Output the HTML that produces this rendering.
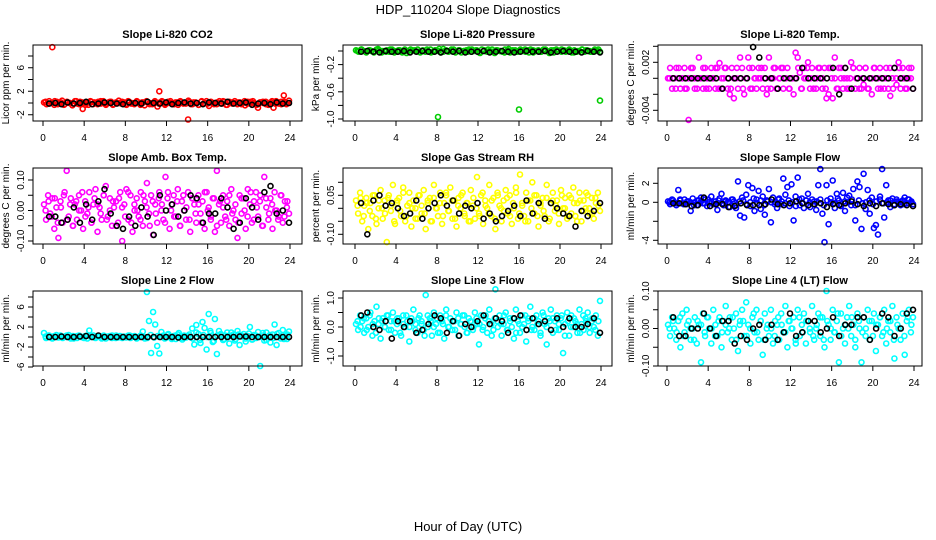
<!DOCTYPE html>
<html><head><meta charset="utf-8"><title>HDP_110204 Slope Diagnostics</title>
<style>
html,body{margin:0;padding:0;background:#fff;}
svg{display:block;font-family:"Liberation Sans",Arial,sans-serif;}
</style></head>
<body>
<svg id="chart" width="936" height="540" viewBox="0 0 936 540" xmlns="http://www.w3.org/2000/svg">
<text x="468" y="14" font-size="13" text-anchor="middle">HDP_110204  Slope Diagnostics</text>
<text x="468" y="531" font-size="13" text-anchor="middle">Hour of Day (UTC)</text>
</svg>
<script>
const xTicks = [0,4,8,12,16,20,24];

const co2Vals = [0.1,-0.2,0.3,0,-0.3,0.2,-0.1,0.4,-0.2,0.1,0,-0.4,0.3,-0.1,0.2,-1.0,-0.3,0.1,0.3,-0.2,0,0.2,-0.1,0.3,-0.3,0.1,0.2,-0.2,0,0.4,-0.1,0.1,-0.3,0.2,0,-0.2,0.3,-0.1,0.1,-0.4,0.2,0,-0.2,0.3,-0.6,0.1,0.2,-0.1,0,0.3,-0.2,0.1,-0.3,0.2,0,-0.1,0.4,-0.2,0.1,0,-0.3,0.2,-0.1,0.3,-0.5,0.1,0,-0.2,0.3,-0.1,0.2,-0.3,0,0.1,0.3,-0.2,0.1,0,-0.4,0.2,-0.1,0.3,-0.2,-0.8,0.1,0,0.2,-0.3,0.1,-0.8,0.3,-0.1,0.2,0,-0.2,0.4];
const co2Vals2 = [0.2,-0.1,0.0,0.3,-0.2,0.1,-0.3,0.2,0.0,-0.1,0.3,-0.2,0.1,0.0,-0.3,0.2,0.1,-0.2,0.3,0.0,-0.1,0.2,-0.3,0.1,0.0,0.2,-0.2,0.3,-0.1,0.0,0.2,-0.3,0.1,0.3,-0.2,0.0,0.1,-0.1,0.3,-0.3,0.2,0.0,-0.2,0.1,0.3,-0.1,0.0,0.2,-0.2,0.1,-0.3,0.3,0.0,-0.1,0.2,-0.2,0.1,0.0,0.3,-0.3,0.2,-0.1,0.0,0.1,-0.2,0.3,-0.1,0.2,0.0,-0.3,0.1,0.2,-0.2,0.0,0.3,-0.1,0.1,-0.2,0.2,0.0];
const co2OutHours = [0.9,11.3,14.1,23.4];
const co2OutVals = [9.5,2.0,-2.8,1.3];
const co2Black = [-0.1,0,-0.2,0.1,-0.1,0,0.2,-0.2,-0.1,0.1,0,-0.1,-0.2,0.1,0,-0.1,0.2,0,-0.1,0.1,-0.2,0,0.1,-0.1,0,-0.2,0.1,0,-0.1,0.2,-0.1,0,0.1,-0.3,-0.1,0,-0.2,0.1,-0.1,0];

const presVals = [0.01,-0.01,0.02,0,-0.02,0.01,0,-0.01,0.02,0.01,-0.02,0,0.01,-0.01,0.02,0,-0.01,0.01,-0.02,0.02,0,-0.01,0.01,0,0.02,-0.02,0.01,-0.01,0,0.02,-0.01,0.01,0,-0.02,0.03,0.01,-0.01,0,0.02,-0.01,0.01,-0.02,0,0.01,0.02,-0.01,0,0.01,-0.02,0.02,0.01,-0.01,0,0.02,-0.03,0.01,0,-0.01,0.02,0.01,-0.02,0,0.01,-0.01,0.02,0,-0.01,0.01,0.02,-0.02,0,0.01,-0.01,0.02,0,-0.01,0.01,-0.02,0.02,0,-0.01,0.01,0,0.02,-0.02,0.01,-0.01,0,0.02,-0.01,0.01,0,-0.01,0.02,0,-0.01];
const presVals2 = [0.0,0.02,-0.01,0.01,-0.02,0.03,0.0,-0.01,0.02,-0.02,0.01,0.0,-0.03,0.02,0.01,-0.01,0.0,0.02,-0.02,0.01,0.03,-0.01,0.0,0.02,-0.02,0.01,0.0,-0.01,0.02,0.01,-0.03,0.0,0.02,-0.01,0.01,0.0,-0.02,0.03,0.01,-0.01,0.0,0.02,-0.02,0.01,0.0,-0.01,0.02,-0.03,0.01,0.0,0.02,-0.01,0.01,-0.02,0.0,0.02,0.01,-0.01,0.0,0.02];
const presOutHours = [8.1,16.0,23.9];
const presOutVals = [-0.97,-0.86,-0.73];
const presBlack = [-0.01,0,-0.01,-0.02,0,-0.01,-0.01,0,-0.02,-0.01,0,-0.01,-0.01,-0.02,0,-0.01,0,-0.02,-0.01,-0.01,0,-0.02,-0.01,0,-0.01,-0.02,-0.01,0,-0.01,-0.01,0,-0.02,-0.01,0,-0.01,-0.01,-0.02,0,-0.01,-0.02];

const tempVals = [0,0.0013,-0.0013,0,0.0013,0,-0.0013,0,0.0013,-0.0013,-0.0052,0,0.0013,-0.0013,0,0.0026,0,-0.0013,0.0013,0,-0.0013,0.0013,0,-0.0013,0.0013,0.0019,-0.0013,0,0.0013,-0.0013,-0.002,0.0013,-0.0025,0,-0.0013,0.0026,0.0013,-0.002,0,0.0026,-0.0013,0.0013,0,-0.0013,0.0013,0,-0.0013,0.0013,-0.002,0.0026,-0.0013,0,0.0013,-0.0013,0,0.0013,-0.0013,0,0.0013,-0.0013,0,-0.002,0.0032,0.0026,0.0007,-0.0013,0.0013,0,0.002,-0.0013,0.0013,0,-0.0013,0.0013,0,-0.0013,0.0013,-0.0025,-0.002,0.0013,-0.0025,0.0026,-0.0013,0.0013,0,-0.0013,0.0013,0,-0.0013,0.002,0.0013,-0.0013,0,0.0013,-0.0013,-0.0008,0.0013,-0.0013,0,-0.002,0.0013,0,-0.0013,0.0013,0,-0.0013,0.0013,-0.0013,-0.0022,0,0.0013,-0.0008,0.002,-0.0013,0.0013,0,-0.0013,0.0013,0,-0.0013];
const tempVals2 = [0,0,-0.0013,0.0013,0,-0.0013,0,0.0013,0,-0.0013,0,0.0013,-0.0013,0,0,0.0013,-0.0013,0,0.0013,0,-0.0013,0,0.0013,0,-0.0013,0,0.0013,-0.0013,0,0,0.0013,0,-0.0013,0,0.0013,-0.0013,0,0.0013,0,-0.0013,0,0,0.0013,-0.0013,0,0.0013,0,-0.0013,0,0.0013,0,-0.0013,0.0013,0,0,-0.0013,0.0013,0,-0.0013,0,0.0013,0,-0.0013,0,0.0013,-0.0013,0,0.0013,0,-0.0013,0,0,0.0013,-0.0013,0,0.0013,0,-0.0013,0,0.0013];
const tempBlack = [0,0,0,0,0,0,0,0,-0.0013,0,0,0,0,0.0039,0.0026,0,0,-0.0013,0,0,0,0.0013,0,0,0,0,0.0013,-0.002,0.0013,-0.0013,0,0,0,0,0,0,0.0013,0,0,-0.0013];

const ambVals = [0.02,-0.03,0.05,-0.01,0.04,-0.06,0.01,-0.09,0.03,-0.04,0.06,0.13,-0.02,0.04,-0.05,0.02,-0.03,0.05,0.0,-0.06,0.03,-0.01,0.06,-0.04,0.02,0.07,-0.07,0.01,-0.03,0.05,0.08,-0.02,0.04,-0.05,0.01,0.03,-0.04,0.06,-0.1,0.02,0.07,-0.03,0.05,-0.07,0.0,0.04,-0.02,0.06,-0.05,0.03,0.09,-0.01,0.05,-0.08,0.02,-0.04,0.06,0.0,-0.03,0.11,0.04,-0.06,0.02,0.05,-0.02,0.07,-0.05,0.03,0.0,-0.03,0.06,-0.07,0.04,0.02,-0.04,0.05,-0.01,0.03,-0.06,0.06,0.01,-0.03,0.04,-0.07,0.13,0.02,-0.04,0.05,-0.02,0.03,-0.05,0.07,0.0,-0.03,-0.09,0.05,-0.01,0.04,-0.06,0.07,0.02,-0.04,0.03,0.06,-0.02,0.05,-0.05,0.11,0.01,-0.03,0.04,-0.06,0.06,0.0,-0.02,0.05,-0.04,0.03,0.01,-0.01];
const ambVals2 = [0.0,0.03,-0.02,0.04,-0.04,0.01,0.05,-0.03,0.02,-0.05,0.03,0.0,0.06,-0.02,0.01,-0.04,0.04,0.02,-0.01,0.05,-0.03,0.0,0.03,-0.05,0.04,0.01,-0.02,0.06,-0.04,0.02,0.0,-0.03,0.05,0.01,-0.05,0.03,-0.01,0.04,0.02,-0.04,0.06,0.0,-0.02,0.03,-0.05,0.05,0.01,-0.03,0.04,-0.01,0.02,-0.04,0.06,0.0,-0.02,0.04,-0.05,0.03,0.01,-0.03,0.05,-0.01,0.02,-0.04,0.04,0.0,-0.02,0.06,-0.03,0.01,0.03,-0.05,0.04,-0.01,0.02,0.0,-0.03,0.05,-0.02,0.03];
const ambBlack = [-0.02,-0.02,-0.04,-0.03,0.01,-0.04,0.02,-0.03,0.03,0.07,-0.01,-0.05,-0.06,-0.02,-0.05,0.01,-0.02,-0.08,0.05,0.0,0.02,-0.02,0.0,0.05,0.04,-0.04,-0.01,-0.01,0.04,0.01,-0.06,-0.04,0.04,0.01,-0.03,0.06,0.08,-0.01,0.0,-0.04];

const rhVals = [0.03,-0.02,0.06,-0.05,0.01,0.04,-0.08,0.02,-0.03,0.05,-0.06,0.0,0.07,-0.04,0.03,-0.13,0.05,-0.01,0.09,-0.06,0.02,0.04,-0.03,0.08,-0.05,0.01,0.06,-0.07,0.03,0.0,-0.04,0.05,-0.02,0.07,-0.08,0.02,0.04,-0.05,0.09,0.0,-0.03,0.06,-0.06,0.02,0.05,-0.01,0.08,-0.04,0.03,-0.07,0.04,0.0,0.06,-0.03,0.02,-0.05,0.07,0.01,-0.04,0.12,-0.02,0.05,-0.06,0.03,0.0,0.09,-0.03,0.04,-0.08,0.06,0.01,-0.05,0.03,0.07,-0.02,0.05,-0.06,0.0,0.08,-0.04,0.13,0.02,-0.03,0.06,-0.05,0.03,0.1,-0.02,0.05,-0.07,0.01,0.04,-0.03,0.09,-0.05,0.02,0.06,-0.01,0.03,-0.06,0.07,0.0,0.04,-0.04,0.05,-0.02,0.08,-0.03,0.02,0.06,-0.05,0.03,0.0,0.05,-0.02,0.04,-0.04,0.02,0.06,-0.01];
const rhVals2 = [0.01,0.04,-0.03,0.02,-0.01,0.05,-0.04,0.03,0.0,-0.02,0.04,0.01,-0.05,0.03,-0.01,0.06,-0.03,0.02,0.0,-0.04,0.05,0.01,-0.02,0.03,-0.05,0.04,0.0,0.02,-0.03,0.06,-0.01,0.03,-0.04,0.01,0.05,-0.02,0.02,-0.05,0.04,0.0,-0.03,0.06,0.01,-0.02,0.03,-0.04,0.05,0.0,-0.01,0.04,-0.03,0.02,0.06,-0.02,0.01,-0.05,0.03,0.0,0.05,-0.03,0.02,-0.01,0.04,-0.04,0.03,0.01,-0.02,0.05,0.0,-0.03,0.04,0.02,-0.05,0.03,-0.01,0.06,0.0,-0.02,0.04,0.01];
const rhBlack = [0.02,-0.1,0.03,0.05,0.01,0.02,0.0,-0.03,-0.02,0.03,-0.04,0.0,0.02,0.05,0.01,0.03,-0.02,0.01,0.0,0.02,-0.04,-0.02,-0.05,-0.03,-0.01,0.01,-0.03,0.03,-0.02,0.02,-0.04,0.02,0.0,-0.02,-0.03,-0.07,-0.01,-0.03,-0.01,0.02];

const flowVals = [0.1,-0.2,0.3,0.0,-0.3,1.3,0.2,-0.1,0.3,-0.2,0.1,-0.9,0.4,0.0,-0.3,0.2,0.5,-0.1,0.3,-0.4,0.0,0.6,-0.2,0.1,-0.8,0.4,0.9,-0.3,0.2,0.0,-0.5,0.3,0.1,-0.6,2.2,-1.4,0.5,-1.6,0.8,1.8,-0.4,1.5,-0.9,0.3,1.2,-0.7,0.6,-1.3,0.2,1.4,-2.1,0.5,0.0,-0.6,0.4,-0.2,2.5,0.8,1.6,-0.4,1.9,-1.9,0.6,2.6,-0.3,0.4,-0.6,0.2,0.9,-0.5,0.3,0.1,-0.8,1.8,3.5,-1.2,-4.2,1.8,-2.3,0.4,2.3,-0.6,0.9,0.2,-0.4,1.0,-0.9,0.5,0.7,-0.3,1.4,-1.9,2.2,1.6,-2.8,3.0,-0.7,1.3,-1.2,0.5,-2.7,-2.4,-3.4,0.6,3.5,-1.6,1.8,0.2,-0.5,0.4,-0.2,0.3,0.0,-0.3,0.2,0.5,-0.1,0.3,0.0,-0.2];
const flowVals2 = [0.0,0.2,-0.1,0.3,-0.2,0.1,0.0,-0.3,0.2,0.1,-0.1,0.3,0.0,-0.2,0.2,-0.1,0.1,0.0,0.3,-0.3,0.1,0.2,-0.2,0.0,0.4,-0.1,0.2,-0.3,0.1,0.0,-0.2,0.3,0.1,-0.1,0.2,0.0,-0.4,0.3,-0.1,0.2,0.0,-0.2,0.1,0.3,-0.3,0.2,0.0,-0.1,0.4,-0.2,0.1,0.0,0.3,-0.3,0.2,-0.1,0.0,0.2,-0.2,0.1,0.3,-0.1,0.0,0.2,-0.3,0.1,0.0,-0.2,0.3,0.1];
const flowBlack = [-0.1,-0.1,-0.2,-0.4,-0.3,0.5,-0.4,-0.2,-0.2,-0.5,-0.4,-0.1,-0.3,-0.3,-0.3,-0.2,0.3,-0.2,-0.3,-0.1,0.1,-0.1,-0.3,-0.2,-0.1,-0.5,-0.2,-0.3,-0.1,0.1,-0.2,-0.4,-0.1,-0.4,-0.1,-0.2,-0.3,-0.2,-0.3,-0.4];

const l2Vals = [0.8,-0.2,0.3,0.0,-0.3,0.2,0.4,-0.1,0.3,-0.2,0.1,0.0,0.4,-0.3,0.2,0.1,-0.2,0.3,0.0,-0.1,0.2,-0.3,1.3,0.1,0.3,-0.2,0.0,0.2,-0.1,0.3,-0.3,0.1,0.2,-0.2,0.0,0.3,-0.1,0.2,-0.2,0.1,0.0,0.3,-0.2,0.1,0.2,-0.1,0.0,0.3,1.1,-0.3,9.0,3.2,-3.2,5.0,2.5,-1.8,-3.3,1.0,0.3,-0.2,0.4,0.0,-0.3,0.2,-0.4,0.5,0.1,-0.2,0.3,-0.1,0.2,0.0,1.7,-1.5,2.4,0.6,-1.2,3.0,1.8,-2.5,4.6,0.8,-1.0,3.6,-3.4,1.2,0.4,-0.6,0.3,0.9,-1.3,0.2,0.5,-0.4,1.2,-1.6,0.3,0.6,-0.9,0.2,2.0,-0.5,0.4,-0.2,1.0,-5.8,0.3,-0.7,0.9,0.1,-1.1,0.5,2.5,-1.6,0.8,-0.3,1.4,0.2,-0.4,1.1];
const l2Vals2 = [0.1,0.3,-0.2,0.0,0.2,-0.1,0.3,0.0,-0.3,0.2,0.1,-0.2,0.3,0.0,-0.1,0.2,-0.3,0.1,0.0,0.3,-0.2,0.2,0.0,-0.1,0.3,0.1,-0.3,0.2,0.0,-0.2,0.4,-0.1,0.2,0.0,-0.3,0.6,-0.4,0.3,0.8,-0.5,0.2,0.5,-0.3,0.9,-0.6,0.4,0.0,1.2,-0.8,0.3,0.6,-0.4,0.2,0.9,-0.7,0.5,0.1,-0.3,0.7,-0.5,0.3,0.0,0.8,-0.6,0.4,-0.2,0.6,0.1,-0.4,0.5];
const l2Black = [0,0,0.1,0,0,0.1,0.2,0,0.3,0,0,0,0,0,0,0,0,0,0,0,0,-0.1,0,0,0,0,0,0,0,0,0,0.1,0.1,0,0,0,0,0,0,0];

const l3Vals = [0.1,-0.1,0.4,0.2,-0.2,0.3,0.0,0.5,-0.3,0.2,0.7,0.1,-0.4,0.3,0.0,0.4,-0.1,0.2,0.5,-0.2,0.1,0.3,-0.3,0.4,0.0,0.2,-0.5,0.3,0.6,0.1,-0.2,0.4,0.2,-0.1,1.1,0.0,0.3,-0.3,0.5,0.1,-0.2,0.4,0.2,-0.4,0.6,0.0,0.3,-0.1,0.2,0.5,-0.3,0.1,0.4,0.0,-0.2,0.3,0.2,-0.1,0.5,0.1,-0.6,0.4,0.0,0.3,-0.2,0.6,0.1,-0.1,1.3,0.2,0.4,-0.3,0.1,0.5,-0.1,0.3,0.0,-0.4,0.6,0.2,-0.2,0.4,0.1,-0.5,0.3,0.7,0.0,-0.1,0.4,0.2,-0.3,0.5,0.1,-0.6,0.3,0.6,-0.2,0.2,0.4,-0.1,0.3,-0.9,0.1,0.5,-0.3,0.4,0.0,0.2,-0.2,0.6,0.1,-0.1,0.3,0.5,-0.2,0.2,0.0,0.4,-0.3,0.9];
const l3Vals2 = [0.2,0.0,0.3,-0.1,0.4,0.1,-0.2,0.3,0.2,0.0,0.4,-0.1,0.2,0.3,-0.2,0.1,0.4,0.0,0.2,-0.1,0.3,0.1,-0.3,0.4,0.2,0.0,0.3,-0.2,0.1,0.4,0.0,0.2,-0.1,0.3,0.1,0.4,-0.2,0.2,0.0,0.3,0.1,-0.1,0.4,0.2,-0.3,0.3,0.0,0.1,0.4,-0.1,0.2,0.3,-0.2,0.1,0.0,0.4,0.2,-0.1,0.3,0.1,-0.2,0.4,0.0,0.2,0.3,-0.1,0.1,0.4,-0.3,0.2,0.0,0.3,0.1,-0.2,0.4,0.2,0.0,0.3,-0.1,0.2];
const l3Black = [0.4,0.5,0.0,-0.1,0.2,-0.4,0.2,0.0,0.2,-0.2,-0.1,0.1,0.4,0.3,-0.2,0.2,-0.3,0.1,0.0,0.2,0.4,0.1,0.3,0.2,-0.2,0.3,0.4,-0.1,0.3,0.1,0.2,-0.1,0.3,0.0,0.3,0.0,0.0,0.1,0.3,-0.2];

const l4Vals = [0.01,-0.02,0.03,0.0,-0.03,0.02,-0.05,0.04,-0.01,0.05,0.02,-0.03,0.0,0.03,-0.04,0.01,-0.09,0.04,-0.02,0.03,0.0,-0.04,0.05,0.01,-0.02,0.03,-0.05,0.02,0.06,-0.01,0.03,-0.03,0.0,0.04,-0.06,0.02,0.05,-0.02,0.07,0.01,-0.04,0.03,-0.01,0.05,-0.03,0.02,-0.07,0.04,0.0,-0.02,0.05,-0.04,0.02,0.01,-0.03,0.04,-0.01,0.06,-0.05,0.02,0.0,0.03,-0.03,0.05,-0.02,0.01,0.04,-0.04,0.02,-0.01,0.06,-0.03,0.0,0.04,-0.02,0.03,-0.05,0.1,0.01,-0.03,0.05,-0.01,0.02,-0.09,0.04,0.0,-0.04,0.03,0.06,-0.02,0.01,-0.05,0.04,0.0,-0.09,0.03,-0.02,0.05,-0.03,0.02,0.04,-0.06,0.01,0.03,-0.02,0.05,-0.04,0.02,-0.01,0.06,-0.08,0.03,0.0,-0.03,0.04,-0.07,0.02,0.05,-0.01,0.03];
const l4Vals2 = [0.0,0.02,-0.01,0.03,-0.02,0.01,0.0,-0.03,0.02,0.01,-0.01,0.03,0.0,-0.02,0.02,-0.01,0.01,0.0,0.03,-0.03,0.01,0.02,-0.02,0.0,0.04,-0.01,0.02,-0.03,0.01,0.0,-0.02,0.03,0.01,-0.01,0.02,0.0,-0.04,0.03,-0.01,0.02,0.0,-0.02,0.01,0.03,-0.03,0.02,0.0,-0.01,0.04,-0.02,0.01,0.0,0.03,-0.03,0.02,-0.01,0.0,0.02,-0.02,0.01,0.03,-0.01,0.0,0.02,-0.03,0.01,0.0,-0.02,0.03,0.01];
const l4Black = [0.03,-0.02,-0.02,0.0,0.0,0.04,0.0,-0.02,0.02,0.02,-0.04,-0.02,-0.03,0.0,0.01,-0.03,0.01,-0.03,-0.01,0.04,-0.02,-0.01,0.02,0.02,-0.01,0.0,0.03,-0.02,0.01,0.01,0.03,0.03,-0.03,0.0,0.04,0.03,-0.02,0.0,0.04,0.05];

const SVGNS = "http://www.w3.org/2000/svg";
const svg = document.getElementById('chart');
function mk(tag, attrs, parent){ const e=document.createElementNS(SVGNS,tag); for(const k in attrs) e.setAttribute(k,attrs[k]); (parent||svg).appendChild(e); return e; }

const cols = [{bx0:33,bx1:302,x0:43,x24:290},{bx0:343,bx1:612,x0:355,x24:601},{bx0:658,bx1:922,x0:667,x24:914}];
const rows = [{top:45,bot:121},{top:168,bot:244},{top:291,bot:366}];

const panels = [
 {name:'co2',title:'Slope Li-820 CO2',ylab:'Licor ppm per min.',r:0,c:0,color:'#ff0000',vals:co2Vals,vals2:co2Vals2,black:co2Black,oh:co2OutHours,ov:co2OutVals,v0:0,p0:103,v1:8,p1:56,ticks:[-2,0,2,4,6,8],labels:[-2,2,6],fmt:v=>String(v)},
 {name:'pressure',title:'Slope Li-820 Pressure',ylab:'kPa per min.',r:0,c:1,color:'#00cc00',vals:presVals,vals2:presVals2,black:presBlack,oh:presOutHours,ov:presOutVals,v0:0,p0:51,v1:-1,p1:119,ticks:[0,-0.2,-0.4,-0.6,-0.8,-1.0],labels:[-0.2,-0.6,-1.0],fmt:v=>v.toFixed(1)},
 {name:'temp',title:'Slope Li-820 Temp.',ylab:'degrees C per min.',r:0,c:2,color:'#ff00ff',vals:tempVals,vals2:tempVals2,black:tempBlack,oh:[],ov:[],v0:0,p0:78.3,v1:0.002,p1:62.3,ticks:[0.004,0.002,0,-0.002,-0.004],labels:[0.002,-0.004],fmt:v=>v.toFixed(3)},
 {name:'amb-box-temp',title:'Slope Amb. Box Temp.',ylab:'degrees C per min.',r:1,c:0,color:'#ff00ff',vals:ambVals,vals2:ambVals2,black:ambBlack,oh:[],ov:[],v0:0,p0:210.5,v1:0.1,p1:180,ticks:[-0.1,-0.05,0,0.05,0.1],labels:[-0.1,0,0.1],fmt:v=>v.toFixed(2)},
 {name:'gas-stream-rh',title:'Slope Gas Stream RH',ylab:'percent per min.',r:1,c:1,color:'#ffff00',vals:rhVals,vals2:rhVals2,black:rhBlack,oh:[],ov:[],v0:0,p0:208.3,v1:0.1,p1:182.3,ticks:[-0.1,-0.05,0,0.05,0.1],labels:[-0.1,0.05],fmt:v=>v.toFixed(2)},
 {name:'sample-flow',title:'Slope Sample Flow',ylab:'ml/min per min.',r:1,c:2,color:'#0000ff',vals:flowVals,vals2:flowVals2,black:flowBlack,oh:[],ov:[],v0:0,p0:202.3,v1:2,p1:183.3,ticks:[-4,-2,0,2],labels:[-4,0,2],fmt:v=>String(v)},
 {name:'line-2-flow',title:'Slope Line 2 Flow',ylab:'ml/min per min.',r:2,c:0,color:'#00ffff',vals:l2Vals,vals2:l2Vals2,black:l2Black,oh:[],ov:[],v0:0,p0:337,v1:6,p1:307,ticks:[-6,-4,-2,0,2,4,6,8],labels:[-6,-2,2,6],fmt:v=>String(v)},
 {name:'line-3-flow',title:'Slope Line 3 Flow',ylab:'ml/min per min.',r:2,c:1,color:'#00ffff',vals:l3Vals,vals2:l3Vals2,black:l3Black,oh:[],ov:[],v0:0,p0:327,v1:1,p1:298,ticks:[-1,-0.5,0,0.5,1],labels:[-1,0,1],fmt:v=>v.toFixed(1)},
 {name:'line-4-flow',title:'Slope Line 4 (LT) Flow',ylab:'ml/min per min.',r:2,c:2,color:'#00ffff',vals:l4Vals,vals2:l4Vals2,black:l4Black,oh:[],ov:[],v0:0,p0:328.5,v1:0.1,p1:291,ticks:[-0.1,-0.05,0,0.05,0.1],labels:[-0.1,0,0.1],fmt:v=>v.toFixed(2)}
];

function drawPoint(g,x,y,color){
 const c=mk('circle',{cx:x.toFixed(1),cy:y.toFixed(1),r:2.5,fill:'none',stroke:color,'stroke-width':1.6},g);
 
 
}

panels.forEach(p=>{
 const C=cols[p.c], R=rows[p.r];
 const xs=h=>C.x0+(h/24)*(C.x24-C.x0);
 const ys=v=>p.p0+(v-p.v0)*(p.p1-p.p0)/(p.v1-p.v0);
 const g=mk('g',{});
 
 
 const t=mk('text',{x:(C.bx0+C.bx1)/2,y:R.top-7,'font-size':11,'font-weight':'bold','text-anchor':'middle'},g);
 t.textContent=p.title;
 
 
 const n=p.vals.length;
 p.vals.forEach((v,i)=>drawPoint(g,xs(0.1+i*23.8/(n-1)),ys(v),p.color));
 const n2=p.vals2.length;
 p.vals2.forEach((v,i)=>drawPoint(g,xs(0.25+i*23.5/(n2-1)),ys(v),p.color));
 p.oh.forEach((h,i)=>drawPoint(g,xs(h),ys(p.ov[i]),p.color));
 const nb=p.black.length;
 p.black.forEach((v,i)=>drawPoint(g,xs(0.6+i*23.3/(nb-1)),ys(v),'#000'));
 const box=mk('rect',{x:C.bx0,y:R.top,width:C.bx1-C.bx0,height:R.bot-R.top,fill:'none',stroke:'#000','stroke-width':1},g);
 
 
 mk('line',{x1:xs(0),x2:xs(24),y1:R.bot,y2:R.bot,stroke:'#000'},g);
 xTicks.forEach(h=>{
  mk('line',{x1:xs(h),x2:xs(h),y1:R.bot,y2:R.bot+5,stroke:'#000'},g);
  const tl=mk('text',{x:xs(h),y:R.bot+20,'font-size':10,'text-anchor':'middle'},g);
  tl.textContent=String(h);
  
  
 });
 const yt=p.ticks.map(ys);
 mk('line',{x1:C.bx0,x2:C.bx0,y1:Math.min(...yt),y2:Math.max(...yt),stroke:'#000'},g);
 p.ticks.forEach(v=>mk('line',{x1:C.bx0-5,x2:C.bx0,y1:ys(v),y2:ys(v),stroke:'#000'},g));
 p.labels.forEach(v=>{
  const y=ys(v), x=C.bx0-9;
  const tl=mk('text',{x:x,y:y,'font-size':10,'text-anchor':'middle',transform:`rotate(-90 ${x} ${y})`},g);
  tl.textContent=p.fmt(v);
  
  
 });
 const ly=(R.top+R.bot)/2, lx=C.bx0-24;
 const yl=mk('text',{x:lx,y:ly,'font-size':10,'text-anchor':'middle',transform:`rotate(-90 ${lx} ${ly})`},g);
 yl.textContent=p.ylab;
 
 
});
</script>
</body></html>
